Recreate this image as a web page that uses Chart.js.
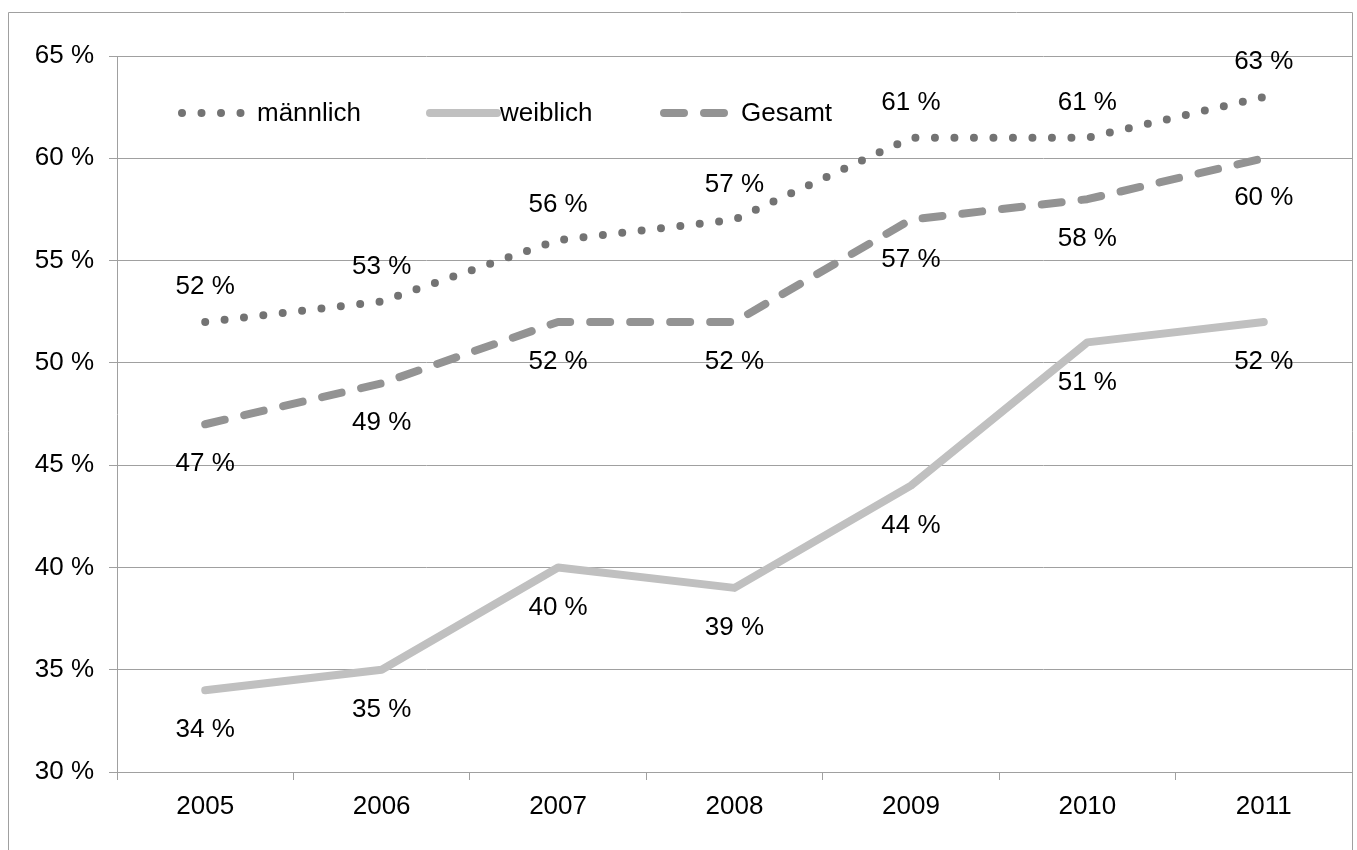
<!DOCTYPE html>
<html lang="de">
<head>
<meta charset="utf-8">
<title>Anteil nach Geschlecht 2005–2011</title>
<script src="https://cdn.jsdelivr.net/npm/chart.js@4.4.1/dist/chart.umd.min.js"></script>
<style>
    html, body { margin: 0; padding: 0; background: #ffffff; }
    canvas { display: block; }
</style>
</head>
<body>
<canvas id="chart" width="1357" height="850"></canvas>
<script>
"use strict";

// Data
const years = ['2005', '2006', '2007', '2008', '2009', '2010', '2011'];
const maennlich = [52, 53, 56, 57, 61, 61, 63];
const weiblich = [34, 35, 40, 39, 44, 51, 52];
const gesamt = [47, 49, 52, 52, 57, 58, 60];
const yTicks = [30, 35, 40, 45, 50, 55, 60, 65];

const FONT = '"Liberation Sans", Arial, sans-serif';
const FONT_SIZE = 26;
const GRID = '#a0a0a0';

// Frame around the whole chart (top, left, right edges)
const framePlugin = {
    id: 'frame',
    beforeDraw(chart) {
        const ctx = chart.ctx;
        ctx.save();
        ctx.strokeStyle = GRID;
        ctx.lineWidth = 1;
        ctx.beginPath();
        ctx.moveTo(8.5, 850);
        ctx.lineTo(8.5, 12.5);
        ctx.lineTo(1352.5, 12.5);
        ctx.lineTo(1352.5, 850);
        ctx.stroke();
        ctx.restore();
    }
};

// Year labels under the category axis (drawn here so the axis keeps the full width)
const yearLabelPlugin = {
    id: 'yearLabels',
    afterDraw(chart) {
        const ctx = chart.ctx;
        const x = chart.scales.x;
        ctx.save();
        ctx.font = FONT_SIZE + 'px ' + FONT;
        ctx.fillStyle = '#000000';
        ctx.textAlign = 'center';
        ctx.textBaseline = 'middle';
        years.forEach((yr, i) => {
            ctx.fillText(yr, x.getPixelForValue(i), chart.chartArea.bottom + 35);
        });
        ctx.restore();
    }
};

// Value labels: above for the dotted series, below for the others
const valueLabelPlugin = {
    id: 'valueLabels',
    afterDatasetsDraw(chart) {
        const ctx = chart.ctx;
        const x = chart.scales.x;
        const y = chart.scales.y;
        ctx.save();
        ctx.font = FONT_SIZE + 'px ' + FONT;
        ctx.fillStyle = '#000000';
        ctx.textAlign = 'center';
        ctx.textBaseline = 'middle';
        chart.data.datasets.forEach(ds => {
            ds.data.forEach((v, i) => {
                const px = x.getPixelForValue(i);
                const py = y.getPixelForValue(v) + (ds.labelAbove ? -35 : 40);
                ctx.fillText(v + ' %', px, py);
            });
        });
        ctx.restore();
    }
};

// Legend row inside the plot area, drawn with each dataset's own stroke style
const legendPlugin = {
    id: 'innerLegend',
    afterDatasetsDraw(chart) {
        const ctx = chart.ctx;
        const left = chart.chartArea.left;
        const ly = 113;
        const items = [
            { ds: 0, x0: 65, x1: 126, tx: 140 },
            { ds: 1, x0: 313, x1: 380, tx: 383 },
            { ds: 2, x0: 547, x1: 611, tx: 624 }
        ];
        ctx.save();
        items.forEach(it => {
            const ds = chart.data.datasets[it.ds];
            ctx.strokeStyle = ds.borderColor;
            ctx.lineWidth = ds.borderWidth;
            ctx.lineCap = 'round';
            ctx.setLineDash(ds.borderDash || []);
            ctx.beginPath();
            ctx.moveTo(left + it.x0, ly);
            ctx.lineTo(left + it.x1, ly);
            ctx.stroke();
            ctx.setLineDash([]);
            ctx.font = FONT_SIZE + 'px ' + FONT;
            ctx.fillStyle = '#000000';
            ctx.textAlign = 'left';
            ctx.textBaseline = 'middle';
            ctx.fillText(ds.label, left + it.tx, ly + 1);
        });
        ctx.restore();
    }
};

const ctx = document.getElementById('chart').getContext('2d');

new Chart(ctx, {
    type: 'line',
    data: {
        labels: years,
        datasets: [
            {
                label: 'männlich',
                data: maennlich,
                borderColor: '#737373',
                borderWidth: 8,
                borderDash: [0, 19.5],
                borderCapStyle: 'round',
                borderJoinStyle: 'round',
                pointRadius: 0,
                tension: 0,
                labelAbove: true
            },
            {
                label: 'weiblich',
                data: weiblich,
                borderColor: '#c0c0c0',
                borderWidth: 8,
                borderCapStyle: 'round',
                borderJoinStyle: 'round',
                pointRadius: 0,
                tension: 0
            },
            {
                label: 'Gesamt',
                data: gesamt,
                borderColor: '#939393',
                borderWidth: 8,
                borderDash: [20, 20],
                borderCapStyle: 'round',
                borderJoinStyle: 'round',
                pointRadius: 0,
                tension: 0
            }
        ]
    },
    options: {
        responsive: false,
        animation: false,
        devicePixelRatio: 1,
        layout: { padding: { top: 56, right: 5, left: 0, bottom: 0 } },
        plugins: {
            legend: { display: false },
            tooltip: { enabled: false }
        },
        scales: {
            x: {
                offset: true,
                grid: {
                    offset: true,
                    drawOnChartArea: false,
                    drawTicks: true,
                    tickLength: 8,
                    color: GRID
                },
                border: { color: GRID, width: 1 },
                ticks: { display: false },
                afterFit(scale) { scale.height = 78; }
            },
            y: {
                min: 30,
                max: 65,
                afterBuildTicks(scale) {
                    scale.ticks = yTicks.map(v => ({ value: v }));
                },
                grid: {
                    color: GRID,
                    tickLength: 8
                },
                border: { color: GRID, width: 1 },
                ticks: {
                    color: '#000000',
                    font: { family: FONT, size: FONT_SIZE },
                    padding: 15,
                    callback: v => v + ' %'
                },
                afterFit(scale) { scale.width = 117; }
            }
        }
    },
    plugins: [framePlugin, yearLabelPlugin, valueLabelPlugin, legendPlugin]
});
</script>
</body>
</html>
